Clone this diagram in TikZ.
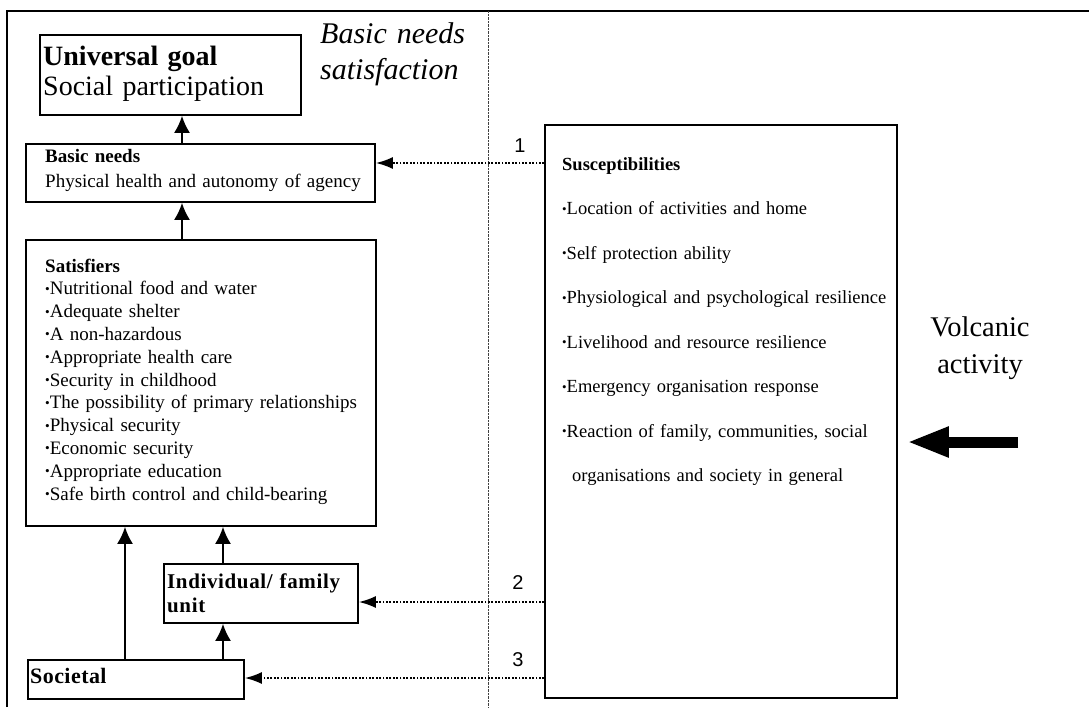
\documentclass[tikz,border=0pt]{standalone}
\usepackage{fontspec}
\setmainfont{Liberation Serif}
\newfontfamily\numfont{Liberation Sans}
\usetikzlibrary{arrows.meta}
% small raised list bullet
\newcommand\bul{\raisebox{0.08em}{\scalebox{0.7}{•}}}

\begin{document}
\begin{tikzpicture}[x=1pt,y=-1pt,
  box/.style={draw, line width=1.7pt, inner sep=0pt},
  txt/.style={inner sep=0pt, anchor=base west, align=left},
  up/.style={line width=1.9pt, -{Latex[length=17pt,width=16pt]}},
  feed/.style={line width=1.8pt, dash pattern=on 1.8pt off 1.6pt,
               -{Latex[length=17pt,width=12pt]}},
  num/.style={inner sep=0pt, font=\numfont\fontsize{20}{22}\selectfont},
  divider/.style={line width=0.8pt, black!75, dash pattern=on 0.8pt off 0.6pt},
  fat/.style={line width=11pt, -{Triangle[length=42pt,width=28pt]}}
]
\useasboundingbox (0,0) rectangle (1089,707);

% outer frame and column divider
\draw[line width=2.2pt] (7,707) -- (7,11) -- (1089,11);
\draw[divider] (488,11) -- (488,707);

% boxes
\node[box, minimum width=261pt, minimum height=80pt]  (ug)  at (170.5,75)  {};
\node[box, minimum width=349pt, minimum height=58pt]  (bn)  at (200.5,173) {};
\node[box, minimum width=350pt, minimum height=286pt] (sat) at (201,383)   {};
\node[box, minimum width=194pt, minimum height=59pt]  (ind) at (261,593.5) {};
\node[box, minimum width=216pt, minimum height=39pt]  (soc) at (136,679.5) {};
\node[box, minimum width=352pt, minimum height=573pt] (sus) at (721,411.5) {};

% box contents
\node[txt, text width=255pt, font=\fontsize{28}{30}\selectfont] (ugt) at (43,65)
  {\textbf{Universal goal}\\Social participation};
\node[txt, text width=330pt, font=\fontsize{19}{25}\selectfont] (bnt) at (45,162)
  {\textbf{Basic needs}\\Physical health and autonomy of agency};
\node[txt, text width=330pt, font=\fontsize{19}{22.8}\selectfont] (satt) at (45,272)
  {\textbf{Satisfiers}\\
   \bul Nutritional food and water\\
   \bul Adequate shelter\\
   \bul A non-hazardous\\
   \bul Appropriate health care\\
   \bul Security in childhood\\
   \bul The possibility of primary relationships\\
   \bul Physical security\\
   \bul Economic security\\
   \bul Appropriate education\\
   \bul Safe birth control and child-bearing};
\node[txt, text width=188pt, font=\fontsize{21}{24}\selectfont\bfseries\addfontfeature{LetterSpace=3}] (indt) at (167,588)
  {Individual/ family\\unit};
\node[txt, font=\fontsize{22}{24}\selectfont\bfseries\addfontfeature{LetterSpace=2}] (soct) at (30,683) {Societal};
\node[txt, text width=330pt, font=\fontsize{18.5}{44.5}\selectfont] (sust) at (562,170)
  {\textbf{Susceptibilities}\\
   \bul Location of activities and home\\
   \bul Self protection ability\\
   \bul Physiological and psychological resilience\\
   \bul Livelihood and resource resilience\\
   \bul Emergency organisation response\\
   \bul Reaction of family, communities, social\\
   \hspace*{10pt}organisations and society in general};

% headings
\node[txt, text width=165pt, font=\fontsize{30}{36}\selectfont\itshape] (head) at (320,43)
  {Basic needs\\satisfaction};
\node[inner sep=0pt, anchor=base, align=center, font=\fontsize{28.5}{37}\selectfont] (volc) at (980,373)
  {Volcanic\\activity};

% upward links
\draw[up] (bn.north -| 182,0)  -- (ug.south -| 182,0);
\draw[up] (sat.north -| 182,0) -- (bn.south -| 182,0);
\draw[up] (soc.north -| 125,0) -- (sat.south -| 125,0);
\draw[up] (soc.north -| 223,0) -- (ind.south -| 223,0);
\draw[up] (ind.north -| 223,0) -- (sat.south -| 223,0);

% feedback links from susceptibilities
\draw[feed] (sus.west |- 0,163) -- (bn.east |- 0,163);
\draw[feed] (sus.west |- 0,602) -- (ind.east |- 0,602);
\draw[feed] (sus.west |- 0,678) -- (soc.east |- 0,678);
\node[num] (n1) at (520,146) {1};
\node[num] (n2) at (518,583) {2};
\node[num] (n3) at (518,659.5) {3};

% external driver
\coordinate (src) at (1018,442);
\draw[fat, shorten >=9pt] (src) -- (sus.east |- src);
\end{tikzpicture}
\end{document}
